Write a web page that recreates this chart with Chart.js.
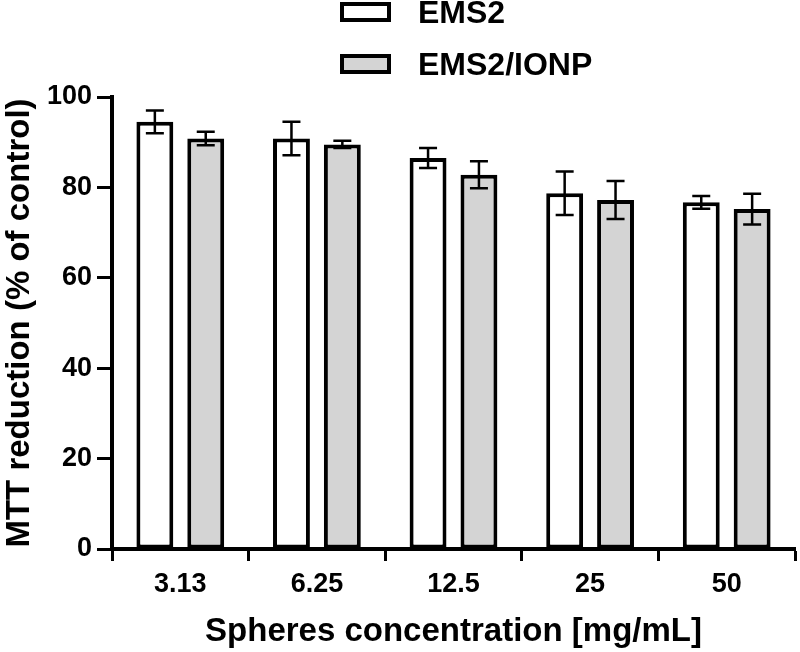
<!DOCTYPE html>
<html>
<head>
<meta charset="utf-8">
<script src="https://cdn.jsdelivr.net/npm/chart.js@4.4.1/dist/chart.umd.min.js"></script>
<style>
  body { margin: 0; background: #fff; }
  #wrap { width: 800px; height: 652px; }
</style>
</head>
<body>
<div id="wrap"><canvas id="mtt" width="800" height="652"></canvas></div>
<script>
const categories = ['3.13', '6.25', '12.5', '25', '50'];
const ems2 = [94.5, 90.8, 86.5, 78.7, 76.7];
const ems2Err = [2.5, 3.7, 2.2, 4.8, 1.4];
const ionp = [90.8, 89.5, 82.8, 77.2, 75.2];
const ionpErr = [1.5, 0.8, 3.0, 4.2, 3.4];
const yTicks = [0, 20, 40, 60, 80, 100];

const FONT = '"Liberation Sans", Arial, sans-serif';

// error bars drawn from the data through the y scale
const errorBars = {
  id: 'errorBars',
  afterDatasetsDraw(chart) {
    const ctx = chart.ctx;
    const y = chart.scales.y;
    ctx.save();
    ctx.strokeStyle = '#000';
    ctx.lineWidth = 2.5;
    chart.data.datasets.forEach((ds, i) => {
      const meta = chart.getDatasetMeta(i);
      meta.data.forEach((bar, j) => {
        const v = ds.data[j], e = ds.errors[j];
        const top = y.getPixelForValue(v + e);
        const bot = y.getPixelForValue(v - e);
        ctx.beginPath();
        ctx.moveTo(bar.x, top); ctx.lineTo(bar.x, bot);
        ctx.moveTo(bar.x - 9, top); ctx.lineTo(bar.x + 9, top);
        ctx.moveTo(bar.x - 9, bot); ctx.lineTo(bar.x + 9, bot);
        ctx.stroke();
      });
    });
    ctx.restore();
  }
};

// stacked legend, boxes left aligned like the original
const stackedLegend = {
  id: 'stackedLegend',
  afterDraw(chart) {
    const ctx = chart.ctx;
    ctx.save();
    ctx.font = 'bold 32px ' + FONT;
    ctx.textBaseline = 'middle';
    ctx.textAlign = 'left';
    chart.data.datasets.forEach((ds, i) => {
      const cy = 12 + i * 52;
      ctx.fillStyle = ds.backgroundColor;
      ctx.fillRect(342, cy - 8, 47, 16);
      ctx.strokeStyle = '#000';
      ctx.lineWidth = 4;
      ctx.strokeRect(342, cy - 8, 47, 16);
      ctx.fillStyle = '#000';
      ctx.fillText(ds.label, 418, cy + 2);
    });
    ctx.restore();
  }
};

new Chart(document.getElementById('mtt'), {
  type: 'bar',
  data: {
    labels: categories,
    datasets: [
      {
        label: 'EMS2',
        data: ems2,
        errors: ems2Err,
        backgroundColor: '#ffffff',
        borderColor: '#000',
        borderWidth: 4,
        borderSkipped: false
      },
      {
        label: 'EMS2/IONP',
        data: ionp,
        errors: ionpErr,
        backgroundColor: '#d4d4d4',
        borderColor: '#000',
        borderWidth: 4,
        borderSkipped: false
      }
    ]
  },
  options: {
    responsive: false,
    animation: false,
    devicePixelRatio: 1,
    categoryPercentage: 0.745,
    barPercentage: 0.725,
    layout: { padding: { top: 97, right: 5, left: 0, bottom: 0 } },
    plugins: {
      legend: { display: false },
      tooltip: { enabled: false }
    },
    scales: {
      x: {
        afterFit(scale) { scale.height = 103; },
        grid: { drawOnChartArea: false, tickLength: 12, tickWidth: 3, tickColor: '#000' },
        border: { display: true, color: '#000', width: 4 },
        ticks: { color: '#000', padding: 7, font: { family: FONT, size: 27, weight: 'bold' } },
        title: {
          display: true,
          text: 'Spheres concentration [mg/mL]',
          color: '#000',
          padding: { top: 0, bottom: 0 },
          font: { family: FONT, size: 33, weight: 'bold' }
        }
      },
      y: {
        min: 0,
        max: 100,
        afterFit(scale) { scale.width = 112; },
        afterBuildTicks(scale) { scale.ticks = yTicks.map(v => ({ value: v })); },
        grid: { drawOnChartArea: false, tickLength: 15, tickWidth: 3, tickColor: '#000' },
        border: { display: true, color: '#000', width: 4 },
        ticks: { color: '#000', padding: 5, font: { family: FONT, size: 27, weight: 'bold' } },
        title: {
          display: true,
          text: 'MTT reduction (% of control)',
          color: '#000',
          padding: { top: 0, bottom: 0 },
          font: { family: FONT, size: 33, weight: 'bold' }
        }
      }
    }
  },
  plugins: [errorBars, stackedLegend]
});
</script>
</body>
</html>
